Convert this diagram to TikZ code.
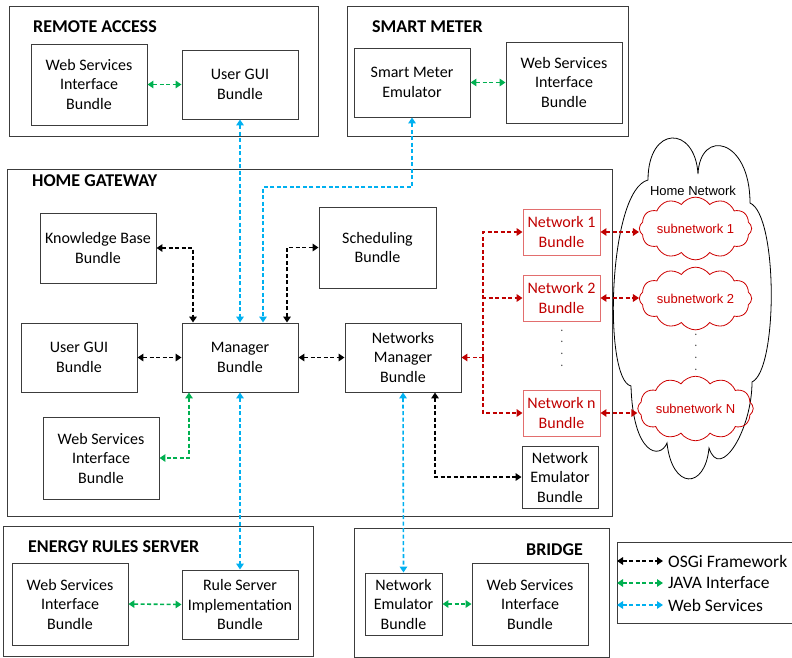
\documentclass[tikz,border=0pt]{standalone}
\usepackage{fontspec}
\setmainfont{Carlito}
\newfontfamily\drawiofont{Liberation Sans}
\usetikzlibrary{arrows.meta,shapes.symbols}

\definecolor{javagreen}{RGB}{0,176,80}
\definecolor{wsblue}{RGB}{0,176,240}
\definecolor{netred}{RGB}{192,0,0}
\definecolor{netredline}{RGB}{226,110,110}
\definecolor{subred}{RGB}{204,0,0}
\definecolor{boxgray}{RGB}{60,60,60}

\tikzset{
  bundle/.style={draw=boxgray, line width=0.9pt, align=center, inner sep=0pt, font=\fontsize{16}{19.5}\selectfont},
  container/.style={draw=boxgray, line width=0.9pt, inner sep=0pt},
  boxtitle/.style={font=\bfseries\fontsize{18}{20}\selectfont, inner sep=0pt},
  netbundle/.style={bundle, draw=netredline, text=netred},
  link/.style={line width=1.6pt, dash pattern=on 4pt off 2.5pt, {Triangle[length=6pt,width=7.5pt]}-{Triangle[length=6pt,width=7.5pt]}},
  osgi/.style={link, draw=black},
  java/.style={link, draw=javagreen},
  websvc/.style={link, draw=wsblue},
  netlink/.style={link, draw=netred},
  subnet/.style={cloud, cloud puffs=12, cloud puff arc=110, aspect=2.2, draw=subred, line width=0.8pt, text=subred, font=\drawiofont\fontsize{13}{15}\selectfont, minimum width=90pt, minimum height=42pt, inner sep=0pt},
  legtext/.style={anchor=west, inner sep=0pt, font=\fontsize{17.5}{20}\selectfont},
}

\begin{document}
\begin{tikzpicture}[x=1pt, y=-1pt]
\useasboundingbox (0,0) rectangle (792,658);

% containers
\node[container, minimum width=309pt, minimum height=130pt] (remote) at (163.5,71) {};
\node[container, minimum width=281pt, minimum height=130pt] (smart) at (487.5,71) {};
\node[container, minimum width=605pt, minimum height=347pt] (gateway) at (309.5,342.5) {};
\node[container, minimum width=310pt, minimum height=130pt] (rules) at (158,591) {};
\node[container, minimum width=255pt, minimum height=129pt] (bridge) at (481.5,592.5) {};
\node[container, minimum width=183pt, minimum height=81pt] (legend) at (708.5,582.5) {};

\node[boxtitle, anchor=west] (remotetitle) at (33,27) {REMOTE ACCESS};
\node[boxtitle, anchor=west] (smarttitle) at (372,27) {SMART METER};
\node[boxtitle, anchor=west] (gatewaytitle) at (32,181) {HOME GATEWAY};
\node[boxtitle, anchor=west] (rulestitle) at (28,547) {ENERGY RULES SERVER};
\node[boxtitle, anchor=east] (bridgetitle) at (583,550) {BRIDGE};

% remote access
\node[bundle, minimum width=116pt, minimum height=81pt] (raws) at (89,84.5) {Web Services\\Interface\\Bundle};
\node[bundle, minimum width=116pt, minimum height=69pt] (ragui) at (240,84.5) {User GUI\\Bundle};

% smart meter
\node[bundle, minimum width=116pt, minimum height=69pt] (sme) at (412,82.5) {Smart Meter\\Emulator};
\node[bundle, minimum width=116pt, minimum height=81pt] (smws) at (564,82.5) {Web Services\\Interface\\Bundle};

% home gateway
\node[bundle, minimum width=116pt, minimum height=70pt] (kb) at (98,248) {Knowledge Base\\Bundle};
\node[bundle, minimum width=117pt, minimum height=81pt] (sched) at (377.5,247.5) {Scheduling\\Bundle};
\node[bundle, minimum width=116pt, minimum height=69pt] (hggui) at (79,357.5) {User GUI\\Bundle};
\node[bundle, minimum width=116pt, minimum height=69pt] (mgr) at (240,357.5) {Manager\\Bundle};
\node[bundle, minimum width=116pt, minimum height=69pt] (nm) at (403,357.5) {Networks\\Manager\\Bundle};
\node[bundle, minimum width=116pt, minimum height=82pt] (hgws) at (101,458) {Web Services\\Interface\\Bundle};
\node[netbundle, minimum width=77pt, minimum height=46pt] (net1) at (561.5,232) {Network 1\\Bundle};
\node[netbundle, minimum width=77pt, minimum height=46pt] (net2) at (561.5,298) {Network 2\\Bundle};
\node[netbundle, minimum width=77pt, minimum height=46pt] (netn) at (561.5,413) {Network n\\Bundle};
\node[text=black!70, align=center, inner sep=0pt, font=\fontsize{12}{11.7}\selectfont] (netdots) at (562,348) {.\\.\\.\\.};
\node[bundle, minimum width=76pt, minimum height=62pt] (nemu) at (560,477) {Network\\Emulator\\Bundle};

% home network cloud
\draw[line width=0.8pt] (648,180) .. controls (648,125) and (695,125) .. (698,174) % top puffs
  .. controls (700,128) and (750,138) .. (750,203)
  .. controls (778,215) and (778,370) .. (752,382) % right side
  .. controls (752,430) and (720,482) .. (709,448) % bottom puffs
  .. controls (705,490) and (672,490) .. (667,443)
  .. controls (660,460) and (633,455) .. (631,386)
  .. controls (603,380) and (608,190) .. cycle; % left side
\node[inner sep=0pt, font=\drawiofont\fontsize{13}{15}\selectfont] (homenettitle) at (693,191) {Home Network};
\node[subnet] (sub1) at (695.5,228.5) {subnetwork 1};
\node[subnet] (sub2) at (695.5,298.5) {subnetwork 2};
\node[subnet] (subN) at (695.5,408.5) {subnetwork N};
\node[text=black!70, align=center, inner sep=0pt, font=\fontsize{12}{11.7}\selectfont] (subdots) at (696,352) {.\\.\\.\\.};

% energy rules server
\node[bundle, minimum width=116pt, minimum height=82pt] (ersws) at (70,604) {Web Services\\Interface\\Bundle};
\node[bundle, minimum width=116pt, minimum height=69pt] (rs) at (240,604.5) {Rule Server\\Implementation\\Bundle};

% bridge
\node[bundle, minimum width=77pt, minimum height=62pt] (brneb) at (403.5,604) {Network\\Emulator\\Bundle};
\node[bundle, minimum width=116pt, minimum height=82pt] (brws) at (530,604) {Web Services\\Interface\\Bundle};

% legend
\node[legtext] (leg1) at (668,561) {OSGi Framework};
\node[legtext] (leg2) at (668,583) {JAVA Interface};
\node[legtext] (leg3) at (668,605) {Web Services};
\coordinate (leg1s) at (617,561);
\coordinate (leg2s) at (617,583);
\coordinate (leg3s) at (617,605);

% connectors
\draw[java] (raws.east) -- (ragui.west);
\draw[java] (sme.east) -- (smws.west);
\draw[java] (ersws.east) -- (rs.west);
\draw[java] (brneb.east) -- (brws.west);

\draw[websvc] (ragui.south) -- (mgr.north);
\coordinate (smturn) at (412,187);
\draw[websvc] (sme.south) -- (smturn) -| ([xshift=23pt]mgr.north); % around to the manager
\draw[websvc] (mgr.south) -- (rs.north);
\draw[websvc] (nm.south) -- (brneb.north);

\draw[osgi] (kb.east) -| ([xshift=-47pt]mgr.north);
\draw[osgi] ([xshift=47pt]mgr.north) |- (sched.west);
\draw[osgi] (hggui.east) -- (mgr.west);
\draw[osgi] (mgr.east) -- (nm.west);
\draw[osgi] ([xshift=32pt]nm.south) |- (nemu.west);
\draw[java] ([xshift=-51pt]mgr.south) |- (hgws.east);

\coordinate (bus) at (483,357.5);
\draw[netlink, -{Triangle[length=6pt,width=7.5pt]}] (bus) -- (nm.east);
\draw[netlink, -{Triangle[length=6pt,width=7.5pt]}] (bus) |- (net1.west);
\draw[netlink, -{Triangle[length=6pt,width=7.5pt]}] (bus) |- (net2.west);
\draw[netlink, -{Triangle[length=6pt,width=7.5pt]}] (bus) |- (netn.west);
\draw[netlink] (net1.east) -- (net1.east -| sub1.west);
\draw[netlink] (net2.east) -- (net2.east -| sub2.west);
\draw[netlink] (netn.east) -- (netn.east -| subN.west);

\draw[osgi] (leg1s) -- ([xshift=-5pt]leg1.west);
\draw[java] (leg2s) -- ([xshift=-5pt]leg2.west);
\draw[websvc] (leg3s) -- ([xshift=-5pt]leg3.west);
\end{tikzpicture}
\end{document}
